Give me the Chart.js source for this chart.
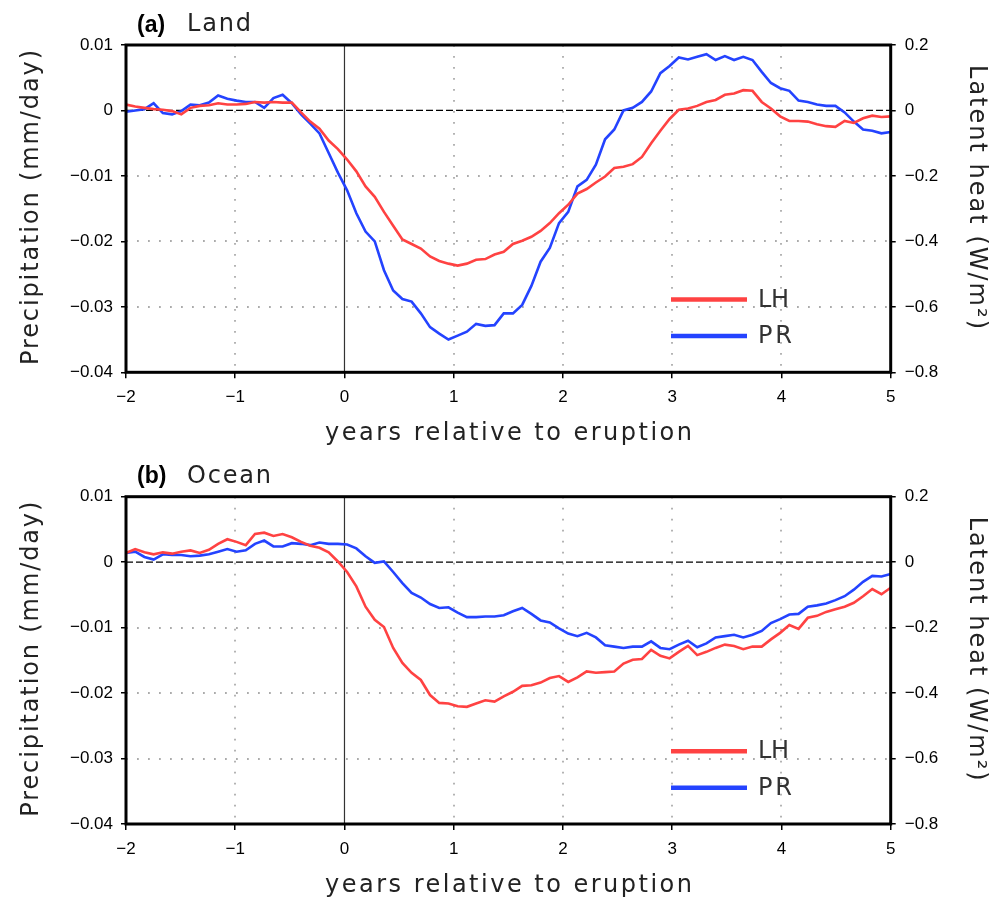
<!DOCTYPE html>
<html>
<head>
<meta charset="utf-8">
<script src="https://cdn.jsdelivr.net/npm/chart.js@4.4.1/dist/chart.umd.min.js"></script>
<style>
  html, body { margin: 0; padding: 0; background: #fff; }
  #wrap { position: relative; width: 1003px; height: 897px; }
  canvas { position: absolute; left: 0; }
</style>
</head>
<body>
<div id="wrap">
  <canvas id="land" width="1003" height="450" style="top:0"></canvas>
  <canvas id="ocean" width="1003" height="447" style="top:450px"></canvas>
</div>
<script>
// monthly anomalies, 84 samples spread evenly over -2 .. +5 years
const nSamples = 84;
const years = Array.from({ length: nSamples }, (_, i) => -2 + i * 7 / (nSamples - 1));

// precipitation, mm/day (left axis)
const landPR = [
  -0.0002, 0.0000, 0.0002, 0.0011, -0.0004, -0.0006, -0.0001, 0.0009, 0.0008, 0.0012,
  0.0023, 0.0018, 0.0015, 0.0013, 0.0013, 0.0004, 0.0019, 0.0024, 0.0011, -0.0006,
  -0.0020, -0.0035, -0.0065, -0.0095, -0.0122, -0.0157, -0.0185, -0.0200, -0.0244, -0.0275,
  -0.0288, -0.0292, -0.0310, -0.0331, -0.0341, -0.0350, -0.0344, -0.0338, -0.0326, -0.0329,
  -0.0328, -0.0310, -0.0310, -0.0297, -0.0268, -0.0231, -0.0210, -0.0172, -0.0155, -0.0116,
  -0.0106, -0.0083, -0.0044, -0.0029, 0.0000, 0.0004, 0.0013, 0.0029, 0.0057, 0.0068,
  0.0081, 0.0078, 0.0082, 0.0086, 0.0077, 0.0083, 0.0077, 0.0082, 0.0077, 0.0059,
  0.0042, 0.0034, 0.0030, 0.0015, 0.0013, 0.0009, 0.0007, 0.0007, -0.0003, -0.0017,
  -0.0029, -0.0031, -0.0035, -0.0033
];
const oceanPR = [
  0.0014, 0.0016, 0.0008, 0.0004, 0.0012, 0.0011, 0.0011, 0.0009, 0.0010, 0.0012,
  0.0016, 0.0020, 0.0016, 0.0018, 0.0028, 0.0033, 0.0024, 0.0024, 0.0029, 0.0028,
  0.0026, 0.0030, 0.0028, 0.0028, 0.0027, 0.0021, 0.0009, -0.0001, 0.0001, -0.0015,
  -0.0032, -0.0047, -0.0054, -0.0064, -0.0070, -0.0069, -0.0077, -0.0084, -0.0084, -0.0083,
  -0.0083, -0.0081, -0.0075, -0.0070, -0.0079, -0.0089, -0.0092, -0.0101, -0.0109, -0.0113,
  -0.0108, -0.0115, -0.0127, -0.0129, -0.0131, -0.0129, -0.0129, -0.0121, -0.0131, -0.0133,
  -0.0126, -0.0120, -0.0130, -0.0124, -0.0115, -0.0113, -0.0111, -0.0115, -0.0111, -0.0105,
  -0.0093, -0.0087, -0.0080, -0.0079, -0.0068, -0.0066, -0.0063, -0.0058, -0.0052, -0.0042,
  -0.0030, -0.0021, -0.0022, -0.0018
];

// latent heat flux, W/m^2 (right axis)
const landLH = [
  0.018, 0.012, 0.008, 0.004, 0.002, -0.002, -0.012, 0.008, 0.014, 0.016,
  0.022, 0.018, 0.018, 0.020, 0.026, 0.024, 0.026, 0.024, 0.024, -0.006,
  -0.034, -0.056, -0.092, -0.118, -0.150, -0.186, -0.232, -0.264, -0.310, -0.352,
  -0.394, -0.408, -0.422, -0.446, -0.460, -0.468, -0.474, -0.468, -0.456, -0.454,
  -0.440, -0.432, -0.408, -0.398, -0.386, -0.368, -0.344, -0.314, -0.288, -0.254,
  -0.240, -0.220, -0.202, -0.176, -0.172, -0.164, -0.142, -0.100, -0.062, -0.026,
  0.002, 0.006, 0.014, 0.026, 0.032, 0.048, 0.052, 0.062, 0.060, 0.026,
  0.006, -0.018, -0.032, -0.032, -0.034, -0.042, -0.048, -0.050, -0.032, -0.038,
  -0.024, -0.016, -0.020, -0.018
];
const oceanLH = [
  0.028, 0.040, 0.030, 0.024, 0.030, 0.026, 0.032, 0.036, 0.028, 0.038,
  0.056, 0.070, 0.062, 0.052, 0.086, 0.090, 0.080, 0.086, 0.076, 0.062,
  0.050, 0.044, 0.030, 0.002, -0.030, -0.074, -0.136, -0.176, -0.198, -0.262,
  -0.308, -0.338, -0.360, -0.406, -0.430, -0.432, -0.440, -0.442, -0.432, -0.422,
  -0.426, -0.410, -0.396, -0.378, -0.376, -0.368, -0.354, -0.348, -0.366, -0.352,
  -0.334, -0.338, -0.336, -0.334, -0.310, -0.298, -0.296, -0.268, -0.286, -0.294,
  -0.274, -0.256, -0.284, -0.274, -0.262, -0.252, -0.256, -0.266, -0.258, -0.258,
  -0.236, -0.216, -0.192, -0.204, -0.170, -0.164, -0.152, -0.144, -0.136, -0.124,
  -0.104, -0.082, -0.098, -0.078
];

const RED = '#ff4242';
const BLUE = '#2443ff';
const THIN = '"DejaVu Sans", "Open Sans", sans-serif';
const TICK_FONT = { family: '"Liberation Sans", Arial, sans-serif', size: 17 };

function fmt(v, digits) {
  const r = Number(v.toFixed(digits));
  return r === 0 ? '0' : String(r).replace('-', '\u2212');
}

// fills text so that it spans a given width, spreading out the letters
function spread(ctx, text, x, y, width) {
  ctx.letterSpacing = '0px';
  const w = ctx.measureText(text).width;
  ctx.letterSpacing = ((width - w) / (text.length - 1)) + 'px';
  ctx.textAlign = 'left';
  ctx.fillText(text, x, y);
  ctx.letterSpacing = '0px';
}

function decor(tag, name) {
  return {
    id: 'decor',
    beforeDatasetsDraw(chart) {
      const { ctx, chartArea: a, scales } = chart;
      const x = scales.x, y = scales.y;
      ctx.save();
      ctx.beginPath();
      ctx.rect(a.left, a.top, a.width, a.height);
      ctx.clip();

      const seg = (x1, y1, x2, y2) => {
        ctx.beginPath(); ctx.moveTo(x1, y1); ctx.lineTo(x2, y2); ctx.stroke();
      };

      // dotted grid
      ctx.strokeStyle = '#ababab';
      ctx.lineWidth = 1.8;
      ctx.setLineDash([1.8, 9.2]);
      x.ticks.forEach(t => {
        if (t.value > x.min && t.value < x.max && t.value !== 0) {
          const px = Math.round(x.getPixelForValue(t.value));
          seg(px, a.top, px, a.bottom);
        }
      });
      y.ticks.forEach(t => {
        if (t.value > y.min + 1e-9 && t.value < y.max - 1e-9 && Math.abs(t.value) > 1e-9) {
          const py = Math.round(y.getPixelForValue(t.value));
          seg(a.left, py, a.right, py);
        }
      });

      // zero line
      ctx.strokeStyle = '#000';
      ctx.lineWidth = 1.3;
      ctx.setLineDash([7, 3]);
      const y0 = y.getPixelForValue(0);
      seg(a.left, y0, a.right, y0);

      // eruption
      ctx.setLineDash([]);
      ctx.strokeStyle = '#333';
      ctx.lineWidth = 1.2;
      const x0 = x.getPixelForValue(0);
      seg(x0, a.top, x0, a.bottom);
      ctx.restore();
    },
    afterDraw(chart) {
      const { ctx, chartArea: a } = chart;
      ctx.save();

      // frame
      ctx.strokeStyle = '#000';
      ctx.lineWidth = 3;
      ctx.strokeRect(a.left, a.top, a.right - a.left, a.bottom - a.top);

      // legend
      const items = [['LH', RED, 254.5], ['PR', BLUE, 291]];
      items.forEach(([label, color, dy]) => {
        const ly = a.top + dy;
        ctx.strokeStyle = color;
        ctx.lineWidth = 4.5;
        ctx.beginPath();
        ctx.moveTo(671, ly);
        ctx.lineTo(747, ly);
        ctx.stroke();
        ctx.fillStyle = '#333';
        ctx.font = '24px ' + THIN;
        ctx.textBaseline = 'middle';
        spread(ctx, label, 758, ly + 1, label === 'LH' ? 31 : 34);
      });

      // panel title
      ctx.textBaseline = 'alphabetic';
      ctx.fillStyle = '#000';
      ctx.font = 'bold 23px "Liberation Sans", Arial, sans-serif';
      ctx.textAlign = 'left';
      ctx.fillText(tag, 137, a.top - 13.5);
      ctx.fillStyle = '#222';
      ctx.font = '24px ' + THIN;
      spread(ctx, name, 187, a.top - 14, name === 'Land' ? 64 : 84);

      // axis titles
      ctx.fillStyle = '#222';
      ctx.font = '24px ' + THIN;
      spread(ctx, 'years relative to eruption', 325, a.top + 395, 367);

      ctx.save();
      ctx.translate(37.5, a.top + 320);
      ctx.rotate(-Math.PI / 2);
      spread(ctx, 'Precipitation (mm/day)', 0, 0, 315);
      ctx.restore();

      ctx.save();
      ctx.translate(970, a.top + 20);
      ctx.rotate(Math.PI / 2);
      spread(ctx, 'Latent heat (W/m\u00B2)', 0, 0, 264);
      ctx.restore();

      ctx.restore();
    }
  };
}

function panel(id, tag, name, pr, lh, topPad, xAxisHeight) {
  const tickGrid = { drawOnChartArea: false, drawTicks: true, tickLength: 5, color: '#000', lineWidth: 1.5 };
  return new Chart(document.getElementById(id), {
    type: 'line',
    data: {
      datasets: [
        {
          label: 'LH',
          data: years.map((x, i) => ({ x, y: lh[i] })),
          yAxisID: 'y2',
          borderColor: RED,
          borderWidth: 2.6,
          pointRadius: 0,
          tension: 0,
          order: 1
        },
        {
          label: 'PR',
          data: years.map((x, i) => ({ x, y: pr[i] })),
          yAxisID: 'y',
          borderColor: BLUE,
          borderWidth: 2.6,
          pointRadius: 0,
          tension: 0,
          order: 2
        }
      ]
    },
    options: {
      responsive: false,
      animation: false,
      devicePixelRatio: 1,
      layout: { padding: { top: topPad, left: 0, right: 0, bottom: 0 } },
      plugins: { legend: { display: false }, tooltip: { enabled: false } },
      scales: {
        x: {
          type: 'linear',
          min: -2,
          max: 5,
          ticks: { stepSize: 1, font: TICK_FONT, color: '#000', padding: 9, maxRotation: 0, callback: v => fmt(v, 0) },
          grid: Object.assign({}, tickGrid, { tickLength: 6 }),
          border: { display: false },
          afterFit: s => { s.height = xAxisHeight; }
        },
        y: {
          position: 'left',
          min: -0.04,
          max: 0.01,
          ticks: { stepSize: 0.01, font: TICK_FONT, color: '#000', padding: 8, callback: v => fmt(v, 2) },
          grid: tickGrid,
          border: { display: false },
          afterFit: s => { s.width = 126; }
        },
        y2: {
          position: 'right',
          min: -0.8,
          max: 0.2,
          ticks: { stepSize: 0.2, font: TICK_FONT, color: '#000', padding: 9, callback: v => fmt(v, 1) },
          grid: tickGrid,
          border: { display: false },
          afterFit: s => { s.width = 112.3; }
        }
      }
    },
    plugins: [decor(tag, name)]
  });
}

panel('land', '(a)', 'Land', landPR, landLH, 45, 77.7);
panel('ocean', '(b)', 'Ocean', oceanPR, oceanLH, 46.7, 73);
</script>
</body>
</html>
